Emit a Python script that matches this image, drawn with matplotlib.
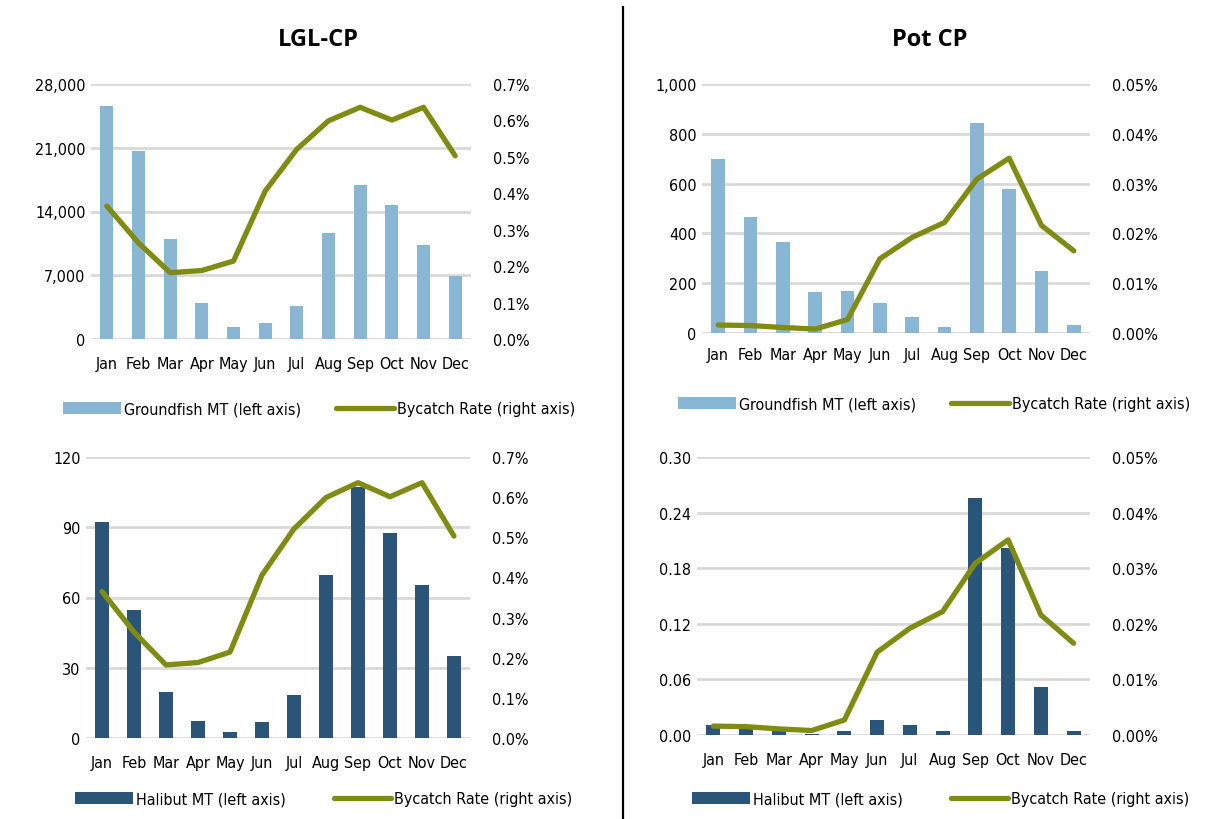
import matplotlib
matplotlib.use("Agg")
import matplotlib.pyplot as plt
from matplotlib.lines import Line2D
from matplotlib.ticker import FuncFormatter, FixedLocator
from matplotlib import font_manager
import numpy as np

months = ["Jan", "Feb", "Mar", "Apr", "May", "Jun", "Jul", "Aug", "Sep", "Oct", "Nov", "Dec"]

# LGL-CP
lgl_groundfish = [25600, 20650, 11000, 3960, 1280, 1760, 3590, 11670, 16960, 14680, 10350, 6970]
lgl_halibut = [92.2, 54.5, 19.5, 7.1, 2.6, 7.0, 18.5, 69.5, 107.2, 87.4, 65.2, 34.9]
lgl_rate = [0.365, 0.264, 0.182, 0.188, 0.214, 0.406, 0.521, 0.599, 0.636, 0.601, 0.636, 0.503]

# Pot CP
pot_groundfish = [699, 467, 364, 165, 167, 119, 64, 23, 842, 580, 249, 32]
pot_halibut = [0.011, 0.010, 0.005, 0.001, 0.004, 0.0166, 0.0112, 0.0043, 0.256, 0.2016, 0.0519, 0.0047]
pot_rate = [0.0016, 0.0015, 0.0011, 0.0008, 0.0027, 0.0149, 0.0192, 0.0222, 0.0309, 0.0351, 0.0216, 0.0165]

titles = ["LGL-CP", "Pot CP"]

W, H = 1228, 820
LIGHT = "#8AB6D6"
DARK = "#2A5578"
OLIVE = "#7F8B12"
GRID = "#D9D9D9"

# pick a narrow font if one is installed
names = {(f.name, f.stretch) for f in font_manager.fontManager.ttflist}
STRETCH = "normal"
if any(n == "Liberation Sans Narrow" for n, s in names):
    FONT = ["Liberation Sans Narrow", "DejaVu Sans"]
    FS = 13.5
elif ("DejaVu Sans", "condensed") in names:
    FONT = ["DejaVu Sans", "Liberation Sans"]
    STRETCH = "condensed"
    FS = 11.5
else:
    FONT = ["Liberation Sans", "DejaVu Sans"]
    FS = 12

plt.rcParams["font.family"] = FONT
plt.rcParams["font.stretch"] = STRETCH

fig = plt.figure(figsize=(W / 100, H / 100), dpi=100)
fig.patch.set_facecolor("white")


def rect(x0, x1, yt, yb):
    return [x0 / W, 1 - yb / H, (x1 - x0) / W, (yb - yt) / H]


def panel(r, bars, color, rate, lticks, lfmt, rticks, rfmt, pad, bar_label, leg_y, leg_x, colsp):
    ax = fig.add_axes(r)
    x = np.arange(len(months))
    ax.bar(x, bars, width=0.42, color=color, zorder=2, label=bar_label)
    ax.set_xlim(-0.5, 11.5)
    ax.set_ylim(lticks[0], lticks[-1])
    ax.yaxis.set_major_locator(FixedLocator(lticks))
    ax.yaxis.set_major_formatter(FuncFormatter(lfmt))
    ax.set_xticks(x)
    ax.set_xticklabels(months)
    ax.grid(axis="y", color=GRID, linewidth=2, zorder=0)
    ax.set_axisbelow(True)
    for s in ax.spines.values():
        s.set_visible(False)
    ax.tick_params(axis="both", length=0, labelsize=FS, colors="black")
    ax.tick_params(axis="x", pad=pad)
    ax.tick_params(axis="y", pad=4)
    ax2 = ax.twinx()
    ax2.plot(x, rate, color=OLIVE, linewidth=3.8, solid_capstyle="round",
             solid_joinstyle="round", zorder=3, label="Bycatch Rate (right axis)")
    ax2.set_ylim(rticks[0], rticks[-1])
    ax2.yaxis.set_major_locator(FixedLocator(rticks))
    ax2.yaxis.set_major_formatter(FuncFormatter(rfmt))
    for s in ax2.spines.values():
        s.set_visible(False)
    ax2.tick_params(axis="y", length=0, labelsize=FS, pad=16)
    h1, l1 = ax.get_legend_handles_labels()
    h2, l2 = ax2.get_legend_handles_labels()
    fig.legend(h1 + h2, l1 + l2, loc="center", bbox_to_anchor=(leg_x / W, 1 - leg_y / H),
               ncol=2, frameon=False, fontsize=FS, handlelength=3.6, handleheight=0.8,
               columnspacing=colsp, handletextpad=0.2)
    return ax, ax2


thousands = lambda v, p: f"{int(round(v)):,}"
pct1 = lambda v, p: f"{v:.1f}%"
pct2 = lambda v, p: f"{v:.2f}%"
dec2 = lambda v, p: f"{v:.2f}"
intf = lambda v, p: f"{int(round(v))}"

panel(rect(91, 471, 85, 340), lgl_groundfish, LIGHT, lgl_rate,
      [0, 7000, 14000, 21000, 28000], thousands,
      [0, 0.1, 0.2, 0.3, 0.4, 0.5, 0.6, 0.7], pct1, 12,
      "Groundfish MT (left axis)", 410, 319, 2.2)
panel(rect(702, 1090, 85, 334), pot_groundfish, LIGHT, pot_rate,
      [0, 200, 400, 600, 800, 1000], thousands,
      [0, 0.01, 0.02, 0.03, 0.04, 0.05], pct2, 10,
      "Groundfish MT (left axis)", 405, 934, 2.2)
panel(rect(86, 470, 458, 739), lgl_halibut, DARK, lgl_rate,
      [0, 30, 60, 90, 120], intf,
      [0, 0.1, 0.2, 0.3, 0.4, 0.5, 0.6, 0.7], pct1, 12,
      "Halibut MT (left axis)", 800, 324, 3.0)
panel(rect(697, 1090, 458, 736), pot_halibut, DARK, pot_rate,
      [0, 0.06, 0.12, 0.18, 0.24, 0.30], dec2,
      [0, 0.01, 0.02, 0.03, 0.04, 0.05], pct2, 12,
      "Halibut MT (left axis)", 800, 941, 3.0)

for tx, t in zip([318, 930], titles):
    fig.text(tx / W, 1 - 40 / H, t, ha="center", va="center", fontsize=17,
             fontweight="bold", family=["Open Sans", "DejaVu Sans"], fontstretch="normal")

fig.add_artist(Line2D([623 / W, 623 / W], [0, 1 - 8 / H], color="black", linewidth=1.6))

fig.savefig("out.png", dpi=100, facecolor="white")
